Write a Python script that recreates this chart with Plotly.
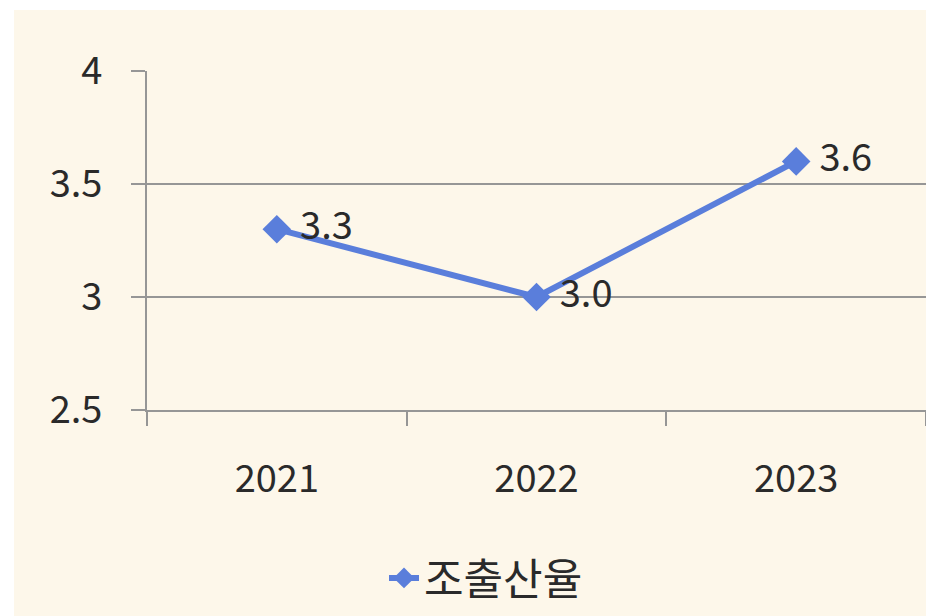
import plotly.graph_objects as go

years = ["2021", "2022", "2023"]
rates = [3.3, 3.0, 3.6]
rate_labels = ["3.3", "3.0", "3.6"]
series_name = "조출산율"
y_ticks = [2.5, 3, 3.5, 4]
y_tick_labels = ["2.5", "3", "3.5", "4"]

FONT = "Noto Sans CJK KR"
CREAM = "#FDF7EA"
BLUE = "#5A7EDB"
GRID = "#969696"
TXT = "#2a2a2a"
FS = 38

W, H = 926, 616
L, R, T, B = 147, 0, 71, H - 410
pw, ph = W - L - R, H - T - B

def px_x(x):  # page pixel -> paper
    return (x - L) / pw

def px_y(y):
    return (H - B - y) / ph

fig = go.Figure()
fig.add_trace(go.Scatter(
    x=years, y=rates, name=series_name,
    mode="lines+markers+text",
    line=dict(color=BLUE, width=6),
    marker=dict(symbol="diamond", size=22, color=BLUE),
    text=rate_labels, texttemplate=" %{text}", textposition="middle right",
    textfont=dict(family=FONT, size=FS, color=TXT),
    cliponaxis=False,
))

fig.add_shape(type="rect", xref="paper", yref="paper",
              x0=px_x(14), x1=px_x(940), y0=px_y(10), y1=px_y(640),
              fillcolor=CREAM, line=dict(width=0), layer="below")

fig.update_layout(
    width=W, height=H,
    margin=dict(l=L, r=R, t=T, b=B, pad=0),
    paper_bgcolor="white",
    plot_bgcolor="rgba(0,0,0,0)",
    font=dict(family=FONT, size=FS, color=TXT),
    showlegend=True,
    legend=dict(orientation="h", x=px_x(486), xanchor="center",
                y=px_y(578), yanchor="middle",
                font=dict(family=FONT, size=43, color=TXT),
                bgcolor="rgba(0,0,0,0)", itemwidth=30),
)
fig.update_xaxes(
    type="category", range=[-0.5, 2.5], showgrid=False, tickson="boundaries",
    ticks="outside", ticklen=14, tickwidth=2, tickcolor=GRID,
    showline=True, linecolor=GRID, linewidth=2,
    ticklabelstandoff=34,
    tickfont=dict(family=FONT, size=FS, color=TXT),
)
fig.update_yaxes(
    range=[2.5, 4], tickvals=y_ticks, ticktext=y_tick_labels,
    showgrid=True, gridcolor=GRID, gridwidth=2, zeroline=False,
    ticks="outside", ticklen=14, tickwidth=2, tickcolor=GRID,
    showline=True, linecolor=GRID, linewidth=2,
    ticklabelstandoff=21,
    tickfont=dict(family=FONT, size=FS, color=TXT),
)

fig.write_html(
    "out.html",
    config={"displayModeBar": False},
    post_script="document.body.style.margin='0';document.body.style.overflow='hidden';",
)
